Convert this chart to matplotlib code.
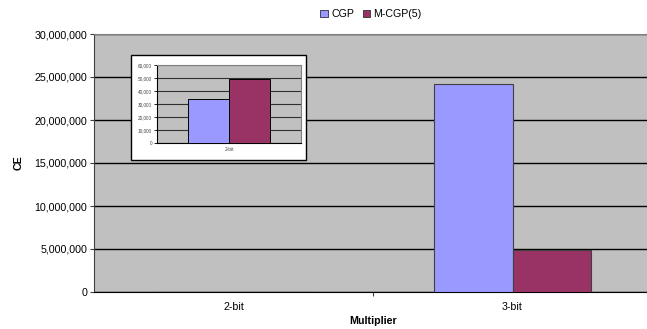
import matplotlib
matplotlib.use("Agg")
import matplotlib.pyplot as plt
from matplotlib.patches import Rectangle, Patch
from matplotlib.ticker import FuncFormatter, MultipleLocator

plt.rcParams['font.family'] = ['Liberation Sans', 'DejaVu Sans']

categories = ["2-bit", "3-bit"]
series_names = ["CGP", "M-CGP(5)"]
cgp_values = [34000, 24200000]
mcgp_values = [49000, 4900000]
inset_categories = ["2-bit"]
inset_cgp = [34000]
inset_mcgp = [49000]

colors = ["#9999FF", "#993366"]
plot_bg = "#C0C0C0"

W, H = 647, 329
fig = plt.figure(figsize=(W / 100, H / 100), dpi=100)

def px_axes(left, top, right, bottom):
    return [left / W, 1 - bottom / H, (right - left) / W, (bottom - top) / H]

comma = FuncFormatter(lambda v, p: f"{int(v):,}")
fs = 7.7

# Main chart
ax = fig.add_axes(px_axes(94, 34, 652, 292))
ax.set_facecolor(plot_bg)
bw = 0.283
xs = list(range(len(categories)))
ax.bar([x - bw / 2 for x in xs], cgp_values, bw, color=colors[0],
       edgecolor="#404040", linewidth=0.8, zorder=3)
ax.bar([x + bw / 2 for x in xs], mcgp_values, bw, color=colors[1],
       edgecolor="#404040", linewidth=0.8, zorder=3)
ax.set_xlim(-0.5, len(categories) - 0.5)
ax.set_ylim(0, 30000000)
ax.yaxis.set_major_locator(MultipleLocator(5000000))
ax.yaxis.set_major_formatter(comma)
ax.grid(axis="y", color="black", linewidth=1.0, zorder=1)
ax.set_axisbelow(True)
ax.set_xticks([x + 0.5 for x in xs[:-1]])
ax.set_xticklabels([])
ax.set_xticks(xs, minor=True)
ax.set_xticklabels(categories, minor=True)
ax.tick_params(axis="x", which="minor", length=0, pad=7, labelsize=fs)
ax.tick_params(axis="x", which="major", length=3, direction="out", color="#404040")
ax.tick_params(axis="y", length=3, direction="out", labelsize=fs, pad=2, color="#404040")
ax.spines["top"].set_color("#808080")
ax.spines["left"].set_color("#404040")
ax.spines["bottom"].set_color("black")
ax.spines["right"].set_visible(False)
ax.set_xlabel("Multiplier", fontsize=fs, fontweight="bold", labelpad=3)
ax.set_ylabel("CE", fontsize=fs, fontweight="bold", labelpad=8)

# White panel behind the inset
fig.patches.append(Rectangle((131 / W, 1 - 160 / H), (306 - 131) / W, (160 - 55) / H,
                             transform=fig.transFigure, facecolor="white",
                             edgecolor="black", linewidth=1.0, zorder=5))

# Inset: 2-bit detail
ax2 = fig.add_axes(px_axes(157, 65, 301, 143), zorder=6)
ax2.set_facecolor(plot_bg)
ibw = 0.285
ixs = list(range(len(inset_categories)))
ax2.bar([x - ibw / 2 for x in ixs], inset_cgp, ibw, color=colors[0],
        edgecolor="black", linewidth=0.7, zorder=3)
ax2.bar([x + ibw / 2 for x in ixs], inset_mcgp, ibw, color=colors[1],
        edgecolor="black", linewidth=0.7, zorder=3)
ax2.set_xlim(-0.5, 0.5)
ax2.set_ylim(0, 60000)
ax2.yaxis.set_major_locator(MultipleLocator(10000))
ax2.yaxis.set_major_formatter(comma)
ax2.grid(axis="y", color="#303030", linewidth=0.8, zorder=1)
ax2.set_axisbelow(True)
ax2.set_xticks(ixs)
ax2.set_xticklabels(inset_categories)
ax2.tick_params(axis="x", length=0, labelsize=3.4, pad=3, labelcolor="#444444")
ax2.tick_params(axis="y", length=2, labelsize=3.4, pad=1.5, labelcolor="#444444",
                width=0.6)
for s in ["top", "right"]:
    ax2.spines[s].set_color("#808080")
    ax2.spines[s].set_linewidth(0.8)
ax2.spines["left"].set_color("black")
ax2.spines["bottom"].set_color("black")

# Legend
handles = [Patch(facecolor=c, edgecolor="#303030", linewidth=0.6) for c in colors]
fig.legend(handles, series_names, loc="center", bbox_to_anchor=(371 / W, 1 - 14 / H),
           ncol=2, frameon=False, fontsize=fs, handlelength=0.7, handleheight=0.7,
           handletextpad=0.3, columnspacing=0.8)

fig.savefig("out.png", dpi=100)
